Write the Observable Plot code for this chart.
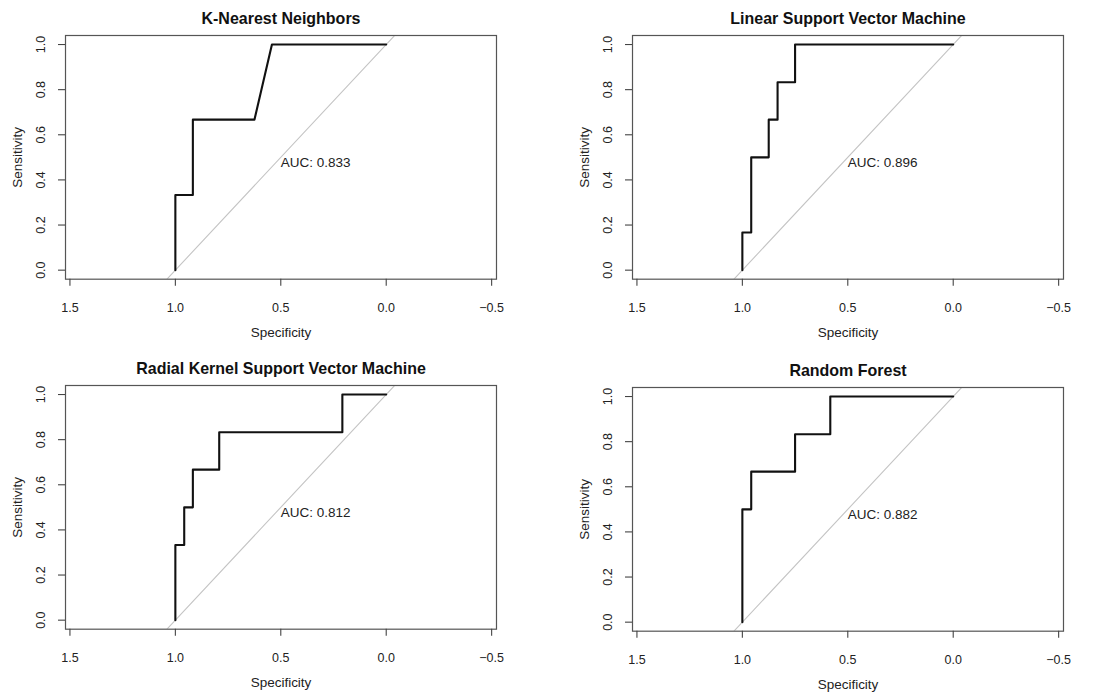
<!DOCTYPE html>
<html>
<head>
<meta charset="utf-8">
<script src="https://cdn.jsdelivr.net/npm/d3@7"></script>
<script src="https://cdn.jsdelivr.net/npm/@observablehq/plot@0.6"></script>
<style>
  html, body { margin: 0; padding: 0; background: #fff; }
  #wrap { position: relative; width: 1107px; height: 693px; overflow: hidden; font-family: "Liberation Sans", Arial, Helvetica, sans-serif; }
  #wrap > div { position: absolute; }
  svg { overflow: visible; max-width: none !important; }
</style>
</head>
<body>
<div id="wrap"></div>
<script>
// Panel titles and AUC labels
const titles = ["K-Nearest Neighbors", "Linear Support Vector Machine", "Radial Kernel Support Vector Machine", "Random Forest"];
const aucLabels = ["AUC: 0.833", "AUC: 0.896", "AUC: 0.812", "AUC: 0.882"];

// ROC curve points (specificity, sensitivity) per model
const knnSpec = [1.0, 1.0, 0.917, 0.917, 0.625, 0.542, 0.0];
const knnSens = [0.0, 0.333, 0.333, 0.667, 0.667, 1.0, 1.0];

const linSpec = [1.0, 1.0, 0.958, 0.958, 0.875, 0.875, 0.833, 0.833, 0.75, 0.75, 0.0];
const linSens = [0.0, 0.167, 0.167, 0.5, 0.5, 0.667, 0.667, 0.833, 0.833, 1.0, 1.0];

const radSpec = [1.0, 1.0, 0.958, 0.958, 0.917, 0.917, 0.792, 0.792, 0.208, 0.208, 0.0];
const radSens = [0.0, 0.333, 0.333, 0.5, 0.5, 0.667, 0.667, 0.833, 0.833, 1.0, 1.0];

const rfSpec = [1.0, 1.0, 0.958, 0.958, 0.75, 0.75, 0.583, 0.583, 0.0];
const rfSens = [0.0, 0.5, 0.5, 0.667, 0.667, 0.833, 0.833, 1.0, 1.0];

// Axis ticks
const xTicks = [1.5, 1.0, 0.5, 0.0, -0.5];
const yTicks = [0.0, 0.2, 0.4, 0.6, 0.8, 1.0];

// Chance (identity) line: sensitivity = 1 - specificity, spanning beyond the plot
const diagSpec = [1.2, -0.2];

const specs = [knnSpec, linSpec, radSpec, rfSpec];
const sens = [knnSens, linSens, radSens, rfSens];

// panel placement (left, top) of each SVG
const places = [[0, 0], [567, 0], [0, 350], [567, 351.5]];

const boxW = 431, boxH = 243.7, mTop = 35, mLeft = 65, mRight = 40;
const W = mLeft + boxW + mRight;
const mBottom = 64, H = mTop + boxH + mBottom;

const font = '"Liberation Sans", Arial, Helvetica, sans-serif';
const wrap = document.getElementById("wrap");

for (let i = 0; i < 4; i++) {
  const pts = specs[i].map((s, j) => ({spec: s, sens: sens[i][j]}));
  const diag = diagSpec.map(s => ({spec: s, sens: 1 - s}));
  const plot = Plot.plot({
    width: W,
    height: H,
    marginLeft: mLeft,
    marginRight: mRight,
    marginTop: mTop,
    marginBottom: mBottom,
    style: {fontFamily: font, background: "transparent", color: "#222", maxWidth: "none"},
    x: {domain: [1.521, -0.523], axis: null},
    y: {domain: [-0.04, 1.04], axis: null},
    marks: [
      Plot.line(diag, {x: "spec", y: "sens", stroke: "#c4c4c4", strokeWidth: 1.1, clip: true}),
      Plot.line(pts, {x: "spec", y: "sens", stroke: "#111", strokeWidth: 2.1, curve: "linear"}),
      Plot.frame({stroke: "#555", strokeWidth: 1.2}),
      Plot.axisX({ticks: xTicks, tickSize: 7, tickPadding: 17, tickFormat: d3.format(".1f"), fontSize: 12.5, label: null, stroke: "#444", strokeWidth: 1.1}),
      Plot.axisY({ticks: yTicks, tickSize: 7, tickFormat: () => "", label: null, stroke: "#444", strokeWidth: 1.1}),
      Plot.text(yTicks, {y: d => d, text: d => d.toFixed(1), frameAnchor: "left", dx: -25, rotate: -90, textAnchor: "middle", lineAnchor: "middle", fontSize: 12.5, fill: "#222"}),
      Plot.text(["Specificity"], {frameAnchor: "bottom", dy: 53, lineAnchor: "middle", fontSize: 13.5, fill: "#222"}),
      Plot.text(["Sensitivity"], {frameAnchor: "left", dx: -48, rotate: -90, lineAnchor: "middle", textAnchor: "middle", fontSize: 13.5, fill: "#222"}),
      Plot.text([titles[i]], {frameAnchor: "top", dy: -17, lineAnchor: "middle", fontSize: 16, fontWeight: "bold", fill: "#111"}),
      Plot.text([aucLabels[i]], {x: () => 0.5, y: () => 0.5, textAnchor: "start", lineAnchor: "top", fontSize: 13.5, fill: "#222"})
    ]
  });
  const holder = document.createElement("div");
  holder.style.left = places[i][0] + "px";
  holder.style.top = places[i][1] + "px";
  holder.style.width = W + "px";
  holder.style.height = H + "px";
  holder.appendChild(plot);
  wrap.appendChild(holder);
}
</script>
</body>
</html>
